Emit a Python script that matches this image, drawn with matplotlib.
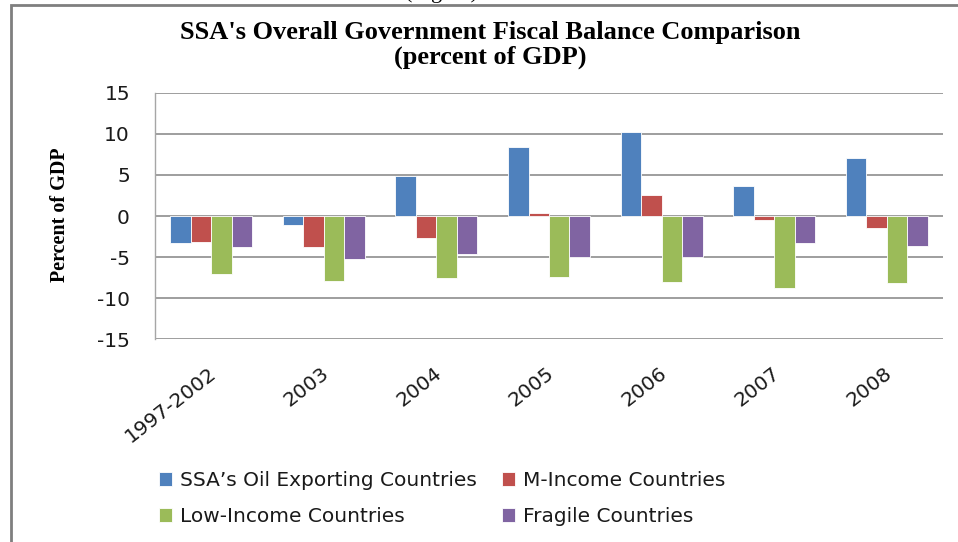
import numpy as np
import matplotlib
matplotlib.use("Agg")
import matplotlib.pyplot as plt
from matplotlib.patches import Rectangle
from matplotlib.transforms import ScaledTranslation

# values (percent of GDP)
periods = ['1997-2002', '2003', '2004', '2005', '2006', '2007', '2008']
oil_exporting = [-3.3, -1.1, 4.9, 8.4, 10.2, 3.6, 7.1]
m_income = [-3.2, -3.8, -2.7, 0.4, 2.5, -0.5, -1.4]
low_income = [-7.0, -7.9, -7.5, -7.4, -8.0, -8.8, -8.2]
fragile = [-3.8, -5.2, -4.6, -5.0, -5.0, -3.3, -3.6]

series_names = ["SSA\u2019s Oil Exporting Countries", "M-Income Countries",
                "Low-Income Countries", "Fragile Countries"]
series_colors = ['#4F81BD', '#C0504D', '#9BBB59', '#8064A2']
y_ticks = [-15, -10, -5, 0, 5, 10, 15]

sans = 'DejaVu Sans'
serif = 'Liberation Serif'
fs = 14.5

fig = plt.figure(figsize=(9.58, 5.42), dpi=100)
ax = fig.add_axes([155 / 958, 1 - 339.3 / 542, (943 - 155) / 958, (339.3 - 92.7) / 542])

x = np.arange(len(periods))
w = 1 / 5.5  # excel gap width 150%
bars = []
for i, (vals, col) in enumerate(zip([oil_exporting, m_income, low_income, fragile], series_colors)):
    b = ax.bar(x + (i - 1.5) * w, vals, w, color=col, edgecolor='white', linewidth=0.6,
               label=series_names[i], zorder=3)
    bars.append(b)

ax.set_xlim(-0.5, len(periods) - 0.5)
ax.set_ylim(-15, 15)
ax.set_yticks(y_ticks)
ax.set_yticklabels([str(t) for t in y_ticks], fontsize=fs, family=sans, color='#1a1a1a')
ax.tick_params(axis='y', length=0, pad=18)

ax.set_xticks(x)
ax.set_xticklabels(periods, rotation=38, ha='right', va='center', rotation_mode='anchor',
                   fontsize=fs, family=sans, color='#1a1a1a')
ax.tick_params(axis='x', length=0, pad=23)
for lab in ax.get_xticklabels():
    lab.set_transform(lab.get_transform() + ScaledTranslation(3 / 100, 0, fig.dpi_scale_trans))

ax.grid(axis='y', color='#8e8e8e', linewidth=1.2, zorder=0)
ax.set_axisbelow(True)
for s in ['top', 'right', 'bottom']:
    ax.spines[s].set_visible(False)
ax.spines['left'].set_color('#a6a6a6')
ax.spines['left'].set_linewidth(1.0)

# title and axis label
fig.text(490 / 958, 1 - 45 / 542, "SSA's Overall Government Fiscal Balance Comparison\n(percent of GDP)",
         ha='center', va='center', family=serif, fontweight='bold', fontsize=19, linespacing=1.1)
fig.text(60 / 958, 1 - 215 / 542, 'Percent of GDP', rotation=90, ha='center', va='center',
         family=serif, fontweight='bold', fontsize=14.5)

# cut off caption above the frame
fig.text(441 / 958, 1 + 2 / 542, '(Figure)', ha='center', va='baseline', family=serif, fontsize=16)

# legend: row 1 oil / m-income, row 2 low / fragile
handles = [bars[0], bars[2], bars[1], bars[3]]
labels = [series_names[0], series_names[2], series_names[1], series_names[3]]
leg = fig.legend(handles, labels, loc='upper left', bbox_to_anchor=(159 / 958, 1 - 471 / 542),
                 ncol=2, frameon=False, borderpad=0, borderaxespad=0,
                 handlelength=0.65, handleheight=0.65, handletextpad=0.4,
                 columnspacing=1.25, labelspacing=0.85,
                 prop={'family': sans, 'size': fs})
for t in leg.get_texts():
    t.set_color('#1a1a1a')

# outer chart frame
fig.add_artist(Rectangle((11 / 958, -0.2), 1.2, 1.2 - 4.5 / 542, transform=fig.transFigure,
                         fill=False, edgecolor='#7f7f7f', linewidth=2.0))

fig.savefig('out.png', dpi=100)
